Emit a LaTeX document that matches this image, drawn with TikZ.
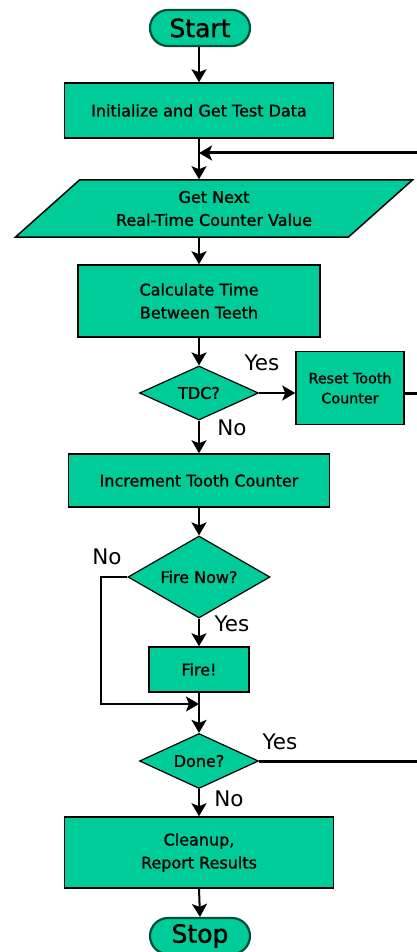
\documentclass[tikz,border=0pt]{standalone}
\usepackage{fontspec}
\setmainfont{DejaVu Sans}
\newfontfamily\stepfont[FakeBold=1.3]{DejaVu Sans}
\usetikzlibrary{arrows.meta,shapes.geometric,shapes.misc}
\definecolor{flowfill}{HTML}{00CC99}
\definecolor{termedge}{HTML}{00503C}
\begin{document}
\begin{tikzpicture}[x=1pt,y=-1pt,
  boxtext/.style={font=\stepfont\fontsize{16}{23}\selectfont,align=center},
  box/.style={boxtext,rectangle,draw=black,line width=1.5pt,fill=flowfill,inner sep=0pt},
  decision/.style={boxtext,diamond,draw=black,line width=1.2pt,fill=flowfill,inner sep=0pt,aspect=2.2},
  terminal/.style={rounded rectangle,draw=termedge,line width=2.2pt,fill=flowfill,
    minimum width=100pt,minimum height=36pt,inner sep=0pt,font=\stepfont\fontsize{25}{30}\selectfont},
  answer/.style={font=\fontsize{21.5}{24}\selectfont,inner sep=0pt},
  tip/.style={-{Stealth[length=13pt,width=15pt,inset=3pt]}},
  flow/.style={tip,line width=2pt},
  thinflow/.style={tip,line width=1.5pt},
  backflow/.style={line width=3pt},
]
\useasboundingbox (0,0) rectangle (417,952);
\clip (0,0) rectangle (417,952);

% process steps
\node[terminal] (start) at (200,28) {Start};
\node[box,minimum width=269pt,minimum height=55pt] (init) at (199,110.5) {Initialize and Get Test Data};
\node[boxtext,trapezium,trapezium left angle=37,trapezium right angle=143,
  trapezium stretches=true,draw=black,line width=1.5pt,fill=flowfill,
  minimum width=398pt,minimum height=57pt,inner sep=0pt] (get) at (214,208.5)
  {Get Next\\Real-Time Counter Value};
\node[box,minimum width=242pt,minimum height=72pt] (calc) at (199,301) {Calculate Time\\Between Teeth};
\node[decision,minimum width=119pt,minimum height=54pt] (tdc) at (199,393) {TDC?};
\node[box,minimum width=108pt,minimum height=73pt,font=\stepfont\fontsize{14.3}{20}\selectfont] (reset) at (350,388) {Reset Tooth\\Counter};
\node[box,minimum width=261pt,minimum height=53pt] (incr) at (199,480.5) {Increment Tooth Counter};
\node[decision,minimum width=142pt,minimum height=82pt] (fireq) at (199,577) {Fire Now?};
\node[box,minimum width=100pt,minimum height=45pt] (fire) at (199,669.5) {Fire!};
\node[decision,minimum width=119pt,minimum height=55pt] (done) at (199,761) {Done?};
\node[box,minimum width=269pt,minimum height=71pt] (clean) at (199,852.5) {Cleanup,\\Report Results};
\node[terminal] (stop) at (200,936) {Stop};

% branch labels
\node[answer] (tdcyes) at (262,363) {Yes};
\node[answer] (tdcno) at (232,428) {No};
\node[answer] (fireno) at (107,557) {No};
\node[answer] (fireyes) at (232,624) {Yes};
\node[answer] (doneyes) at (280,742) {Yes};
\node[answer] (doneno) at (229,799) {No};

% junction points
\coordinate (loopin) at (199,153);
\coordinate (railtop) at (432,153);
\coordinate (skipjoin) at (199,704);
\coordinate (skipleft) at (101,577);

% main line
\draw[flow] (start.south -| init.north) -- (init.north);
\draw[flow] (init.south) -- (init.south |- get.north);
\draw[flow] (init.south |- get.south) -- (calc.north);
\draw[flow] (calc.south) -- (tdc.north);
\draw[flow] (tdc.east) -- (tdc.east -| reset.west);
\draw[flow] (tdc.south) -- (incr.north);
\draw[flow] (incr.south) -- (fireq.north);
\draw[flow] (fireq.south) -- (fire.north);
\draw[thinflow] (fireq.west) -- (skipleft) |- (skipjoin);
\draw[flow] (fire.south) -- (done.north);
\draw[flow] (done.south) -- (clean.north);
\draw[flow] (clean.south) -- (stop.north);

% return path to the counter read
\draw[backflow] (reset.east |- tdc.east) -- (tdc.east -| railtop);
\draw[backflow] (done.east) -- (done.east -| railtop) -- (railtop);
\draw[flow,line width=3pt] (railtop) -- (loopin);
\end{tikzpicture}
\end{document}
